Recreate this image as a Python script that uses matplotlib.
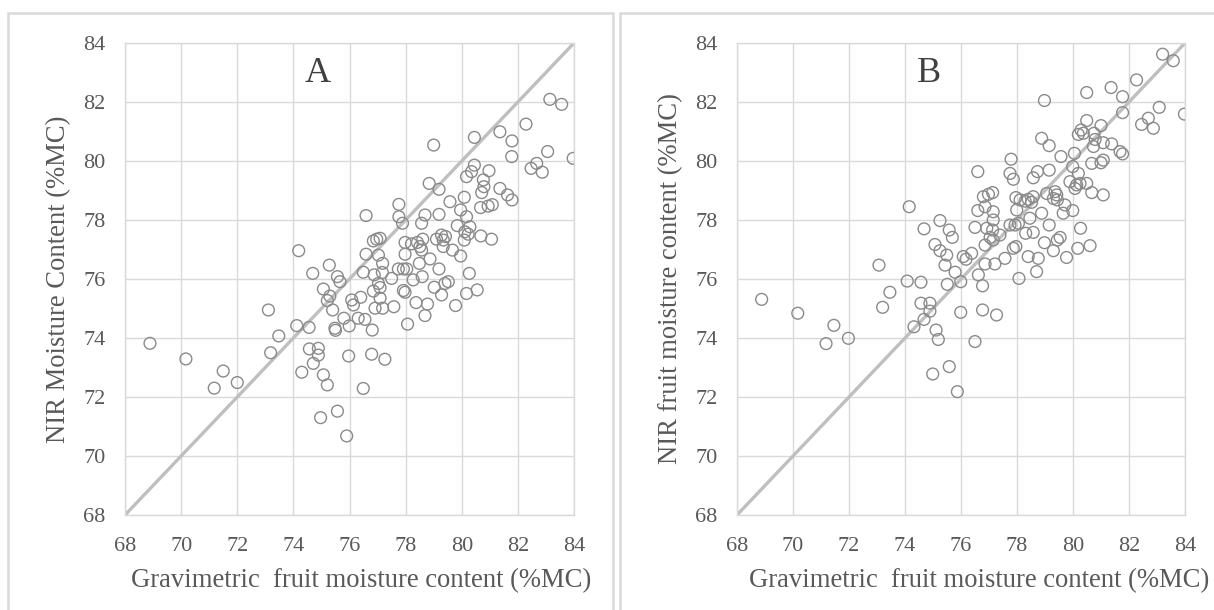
import matplotlib
matplotlib.use("Agg")
from matplotlib import pyplot as plt
from matplotlib.patches import Rectangle

plt.rcParams["font.family"] = ["Liberation Serif", "DejaVu Serif"]

# panel A: gravimetric vs NIR moisture content
a_x = [83.14, 83.56, 82.29, 80.45, 81.36, 81.79, 79.00, 81.78, 83.06, 83.97,
       82.67, 82.47, 82.87, 80.45, 80.17, 80.35, 80.97, 80.77, 80.79, 80.71,
       81.36, 81.63, 81.79, 78.84, 79.19, 79.58, 80.09, 80.67, 80.94, 81.09,
       77.76, 76.59, 77.76, 77.89, 78.69, 78.57, 79.19, 79.96, 80.17, 79.84,
       80.29, 80.11, 80.23, 80.68, 81.06, 80.09, 79.28, 79.42, 79.34, 79.10,
       79.67, 79.96, 79.34, 77.09, 76.85, 76.97, 77.98, 78.21, 78.42, 78.61,
       78.51, 78.57, 77.98, 78.87, 76.59, 77.03, 77.18, 78.49, 77.74, 77.92,
       78.04, 79.19, 76.49, 76.88, 77.17, 77.50, 78.27, 78.59, 77.03, 77.09,
       76.85, 80.27, 79.52, 79.40, 79.02, 79.28, 80.17, 80.55, 77.92, 77.98,
       77.09, 76.91, 77.18, 77.58, 78.37, 78.78, 78.69, 79.78, 78.07, 76.81,
       76.31, 76.55, 75.99, 75.80, 76.08, 76.40, 76.14,
       74.19, 74.69, 75.28, 75.57, 75.66, 75.07, 75.30, 75.21, 75.40, 75.48,
       75.50, 74.56, 74.12, 73.48, 73.11,
       68.89, 70.17, 71.50, 71.18, 72.00, 73.19, 74.57, 74.89, 74.89, 74.71,
       74.30, 75.07, 75.21, 75.97, 75.57, 74.97, 75.90,
       76.79, 77.26, 76.49]
a_y = [82.09, 81.92, 81.25, 80.80, 80.99, 80.68, 80.54, 80.15, 80.32, 80.09,
       79.92, 79.75, 79.62, 79.86, 79.47, 79.64, 79.67, 79.36, 79.13, 78.93,
       79.07, 78.85, 78.68, 79.24, 79.04, 78.62, 78.77, 78.42, 78.47, 78.52,
       78.53, 78.15, 78.11, 77.89, 78.17, 77.89, 78.19, 78.34, 78.11, 77.81,
       77.77, 77.60, 77.52, 77.46, 77.35, 77.32, 77.49, 77.44, 77.32, 77.35,
       76.98, 76.78, 77.10, 77.38, 77.29, 77.35, 77.24, 77.19, 77.24, 77.35,
       77.10, 76.98, 76.84, 76.68, 76.84, 76.81, 76.53, 76.53, 76.34, 76.34,
       76.34, 76.34, 76.23, 76.14, 76.22, 76.02, 75.97, 76.08, 75.85, 75.71,
       75.59, 76.19, 75.91, 75.85, 75.72, 75.46, 75.51, 75.63, 75.61, 75.55,
       75.35, 75.01, 75.01, 75.06, 75.20, 75.15, 74.76, 75.10, 74.47, 74.27,
       74.67, 74.63, 74.41, 74.67, 75.29, 75.38, 75.12,
       76.96, 76.19, 76.47, 76.08, 75.91, 75.66, 75.42, 75.27, 74.95, 74.33,
       74.26, 74.36, 74.42, 74.07, 74.95,
       73.82, 73.29, 72.88, 72.30, 72.49, 73.50, 73.63, 73.65, 73.42, 73.14,
       72.84, 72.75, 72.41, 73.39, 71.52, 71.30, 70.68,
       73.45, 73.28, 72.29]

# panel B: gravimetric vs NIR fruit moisture content
b_x = [74.15, 74.68, 75.25, 75.58, 75.69, 75.07, 75.25, 75.49,
       83.20, 83.58, 82.27, 81.36, 81.77, 80.49, 78.98, 81.77, 83.08, 83.98,
       82.69, 82.45, 82.87, 80.49, 81.00, 80.29, 80.19, 80.37, 80.75, 80.79,
       80.73, 81.08, 81.38, 81.68, 81.77, 78.88, 79.15, 79.57, 80.05, 80.67,
       81.00, 81.08, 79.99, 80.19, 77.79, 76.60, 77.75, 77.87, 78.58, 78.73,
       79.15, 79.89, 80.25, 80.49, 80.67, 81.08, 80.07, 80.13, 76.80, 76.98,
       77.13, 76.60, 76.86, 77.15, 77.96, 78.11, 78.29, 78.40, 78.52, 78.58,
       77.99, 79.06, 79.36, 79.42, 79.30, 79.44, 79.71, 79.65, 79.99, 78.88,
       78.46, 77.15, 76.50, 76.92, 77.13, 77.75, 77.93, 78.05, 78.31, 78.58,
       79.15, 80.27, 77.04, 77.15, 77.39, 76.86, 77.57, 77.87, 77.96, 78.98,
       79.54, 79.44, 79.30, 80.17, 80.61, 78.40, 78.76, 79.77,
       78.70, 78.07, 75.43, 76.08, 76.18, 76.38, 75.79, 76.86, 77.21, 76.62,
       75.51, 75.99, 76.77, 75.99, 76.77, 77.27, 76.50, 75.58, 75.87,
       68.88, 70.17, 71.46, 71.18, 71.98, 73.07, 73.46, 73.20, 74.08, 74.57,
       74.57, 74.89, 74.89, 74.68, 74.32, 75.11, 75.19, 74.99]
b_y = [78.45, 77.70, 77.98, 77.66, 77.41, 77.17, 76.96, 76.81,
       83.62, 83.40, 82.75, 82.49, 82.18, 82.32, 82.05, 81.64, 81.82, 81.59,
       81.45, 81.24, 81.11, 81.37, 81.20, 81.05, 80.90, 80.94, 80.94, 80.73,
       80.49, 80.62, 80.58, 80.32, 80.24, 80.77, 80.52, 80.15, 80.26, 79.92,
       79.94, 80.03, 79.81, 79.58, 80.06, 79.64, 79.58, 79.38, 79.43, 79.64,
       79.69, 79.30, 79.24, 79.24, 78.93, 78.85, 79.07, 79.19, 78.79, 78.87,
       78.93, 78.32, 78.45, 78.28, 78.76, 78.68, 78.64, 78.70, 78.60, 78.79,
       78.34, 78.90, 78.96, 78.85, 78.73, 78.68, 78.51, 78.23, 78.32, 78.23,
       78.06, 78.00, 77.75, 77.72, 77.66, 77.83, 77.83, 77.89, 77.55, 77.58,
       77.83, 77.72, 77.41, 77.32, 77.49, 77.15, 76.70, 77.04, 77.10, 77.23,
       77.41, 77.32, 76.96, 77.04, 77.13, 76.76, 76.70, 76.73,
       76.25, 76.02, 76.47, 76.76, 76.67, 76.87, 76.23, 76.51, 76.51, 76.14,
       75.82, 75.91, 75.77, 74.87, 74.95, 74.78, 73.88, 73.03, 72.18,
       75.31, 74.84, 74.43, 73.81, 73.99, 76.47, 75.55, 75.04, 75.93, 75.89,
       75.18, 75.18, 74.91, 74.63, 74.38, 74.27, 73.95, 72.78]

ticks = [68, 70, 72, 74, 76, 78, 80, 82, 84]
x_title = "Gravimetric  fruit moisture content (%MC)"
y_titles = ["NIR Moisture Content (%MC)", "NIR fruit moisture content (%MC)"]
letters = ["A", "B"]

W, H = 1214, 610
fig = plt.figure(figsize=(W / 100, H / 100), dpi=100)
txt = "#595959"
grid = "#d9d9d9"


def box(l, t, r, b):
    return [l / W, 1 - b / H, (r - l) / W, (b - t) / H]


# outer panel frames
for l, r in [(8, 613), (620, 1230)]:
    fig.patches.append(Rectangle((l / W, -0.05), (r - l) / W, 1.05 - 13 / H,
                                 transform=fig.transFigure, fill=False,
                                 edgecolor=grid, linewidth=1.8, clip_on=False))

panels = [(a_x, a_y, box(125, 43, 574, 515), 361, 59),
          (b_x, b_y, box(737, 43, 1185, 515), 979, 671)]

for i, (xs, ys, rect, xl, yl) in enumerate(panels):
    ax = fig.add_axes(rect)
    ax.set_xlim(68, 84)
    ax.set_ylim(68, 84)
    ax.set_xticks(ticks)
    ax.set_yticks(ticks)
    ax.grid(True, color=grid, linewidth=1.0)
    ax.set_axisbelow(True)
    for s in ax.spines.values():
        s.set_color(grid)
        s.set_linewidth(1.0)
    ax.tick_params(axis="y", length=0, pad=14, labelsize=16, labelcolor=txt)
    ax.tick_params(axis="x", length=0, pad=16, labelsize=16, labelcolor=txt)
    ax.plot([68, 84], [68, 84], color="#bfbfbf", linewidth=2.4, zorder=2)
    ax.scatter(xs, ys, s=72, facecolors="none", edgecolors="#8a8a8a",
               linewidths=1.0, zorder=3)
    ax.text(74.85, 82.95, letters[i], fontsize=26, color="#404040",
            ha="center", va="center")
    fig.text(xl / W, 1 - 581 / H, x_title, fontsize=19.2, color=txt,
             ha="center", va="center")
    fig.text(yl / W, 1 - 279 / H, y_titles[i], fontsize=19.2, color=txt,
             ha="center", va="center", rotation=90)

fig.savefig("out.png", dpi=100)
